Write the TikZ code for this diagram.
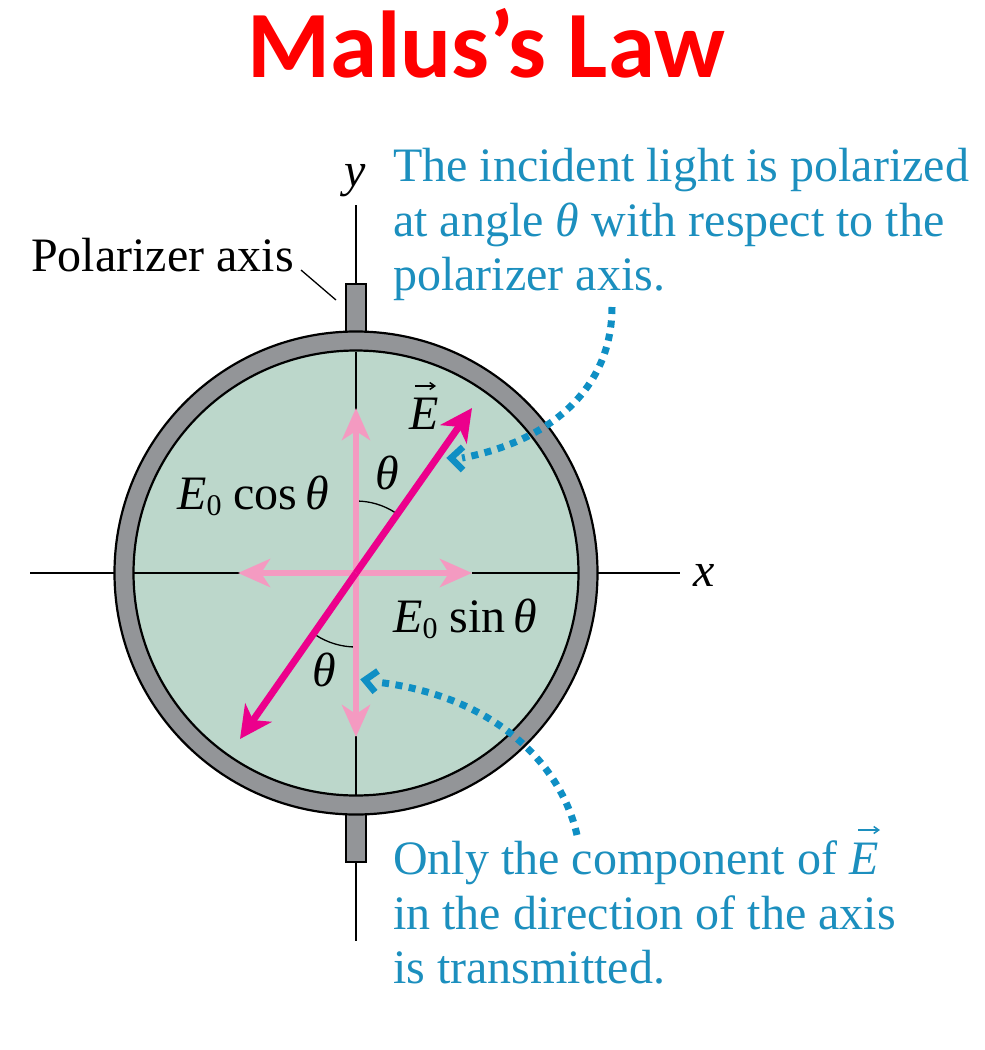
\documentclass[tikz,border=0pt]{standalone}
\usepackage{fontspec}
\setmainfont{Liberation Serif}
\newfontfamily\titlefont{Carlito}
\usetikzlibrary{arrows.meta,calc}
\definecolor{disccol}{HTML}{BCD7CB}
\definecolor{ringcol}{HTML}{939598}
\definecolor{hotcol}{HTML}{EC008C}
\definecolor{softcol}{HTML}{F49AC1}
\definecolor{captcol}{HTML}{1C8FBE}
\definecolor{dotcol}{HTML}{0F8FC4}
\definecolor{titlered}{HTML}{FF0000}
\tikzset{
  ax/.style={black,line width=2.2bp},
  thin arc/.style={black,line width=1.3bp},
  softarrow/.style={softcol,line width=6bp,-{Stealth[length=32bp,width=28bp,inset=9bp]}},
  hotarrow/.style={hotcol,line width=7bp,-{Stealth[length=32bp,width=32bp,inset=9bp]}},
  dotted curve/.style={dotcol,line width=7bp,dash pattern=on 7bp off 6.5bp},
  headtip/.style={dotcol,line width=6.5bp,line cap=butt},
  blk/.style={text=black,font=\fontsize{48bp}{48bp}\selectfont,inner sep=0pt,anchor=base},
  capt/.style={text=captcol,font=\fontsize{48bp}{54bp}\selectfont,inner sep=0pt,anchor=base west},
  post/.style={fill=ringcol,draw=black,line width=2bp}
}
\begin{document}
\begin{tikzpicture}[x=1bp,y=-1bp]
\useasboundingbox (0,0) rectangle (985,1050);
\node[inner sep=0pt,anchor=base,text=titlered,font=\titlefont\bfseries\fontsize{95bp}{95bp}\selectfont] (title) at (486,77) {Malus’s Law};
\coordinate (c) at (356,573);
% axes outside
\coordinate (ytop) at (356,205);
\coordinate (ybot) at (356,941);
\coordinate (xl) at (30,573);
\coordinate (xr) at (680,573);
\draw[ax] (ytop) -- (ybot);
\draw[ax] (xl) -- (xr);
% posts
\draw[post] (346,284) rectangle (366,335);
\draw[post] (346,812) rectangle (366,862);
% ring and disc
\draw[black,line width=2.2bp,fill=ringcol] (c) circle (241.5);
\draw[black,line width=2.2bp,fill=disccol] (c) circle (222.5);
% axes inside
\draw[ax] (356,352) -- (356,410);
\draw[ax] (356,736) -- (356,795);
\draw[ax] (134,573) -- (240,573);
\draw[ax] (472,573) -- (578,573);
% arcs
\draw[thin arc] (356,501) arc[start angle=-90,end angle=-57,radius=72];
\draw[thin arc] (356,647) arc[start angle=90,end angle=123,radius=74];
% components
\coordinate (tn) at (356,408);
\coordinate (ts) at (356,737);
\coordinate (tw) at (238,573);
\coordinate (te) at (472,573);
\draw[softarrow] (c) -- (tn);
\draw[softarrow] (c) -- (ts);
\draw[softarrow] (c) -- (tw);
\draw[softarrow] (c) -- (te);
\coordinate (hne) at (472,408);
\coordinate (hsw) at (240,739);
\draw[hotarrow] (c) -- (hne);
\draw[hotarrow] (c) -- (hsw);
% leader
\coordinate (pa) at (301,270);
\coordinate (pb) at (336,300);
\draw[black,line width=1.3bp] (pa) -- (pb);
% dotted
\draw[dotted curve] (612,307) .. controls (612,385) and (555,440) .. (462,458);
\draw[headtip] (463,447) -- (451,458) -- (463,470);
\draw[dotted curve] (577,835) .. controls (560,760) and (490,695) .. (376,682);
\draw[headtip] (378,671) -- (365,680) -- (375,692);
% labels
\node[blk,anchor=base west] (pol) at (31,271) {Polarizer axis};
\node[blk] (yl) at (355,186) {\textit{y}};
\node[blk] (xlab) at (704,586) {\textit{x}};
\node[blk] (evec) at (424,429) {\textit{E}};
\draw[black,line width=1.5bp,-{Straight Barb[length=5bp,width=7bp]}] (415,386) -- (436,386);
\node[blk] (th1) at (387,489) {\textit{θ}};
\node[blk] (th2) at (324,686) {\textit{θ}};
\node[blk,anchor=base west] (ecos) at (177,509) {\textit{E}\raisebox{-6bp}{\fontsize{30bp}{30bp}\selectfont 0} cos\,\textit{θ}};
\node[blk,anchor=base west] (esin) at (393,632) {\textit{E}\raisebox{-6bp}{\fontsize{30bp}{30bp}\selectfont 0} sin\,\textit{θ}};
\node[capt] (c1) at (393,181) {The incident light is polarized};
\node[capt] (c2) at (393,236) {at angle \textit{θ} with respect to the};
\node[capt] (c3) at (393,290) {polarizer axis.};
\node[capt] (d1) at (393,874) {Only the component of \textit{E}};
\draw[captcol,line width=1.5bp,-{Straight Barb[length=5bp,width=7bp]}] (858,830) -- (880,830);
\node[capt] (d2) at (393,929) {in the direction of the axis};
\node[capt] (d3) at (393,983) {is transmitted.};
\end{tikzpicture}
\end{document}
